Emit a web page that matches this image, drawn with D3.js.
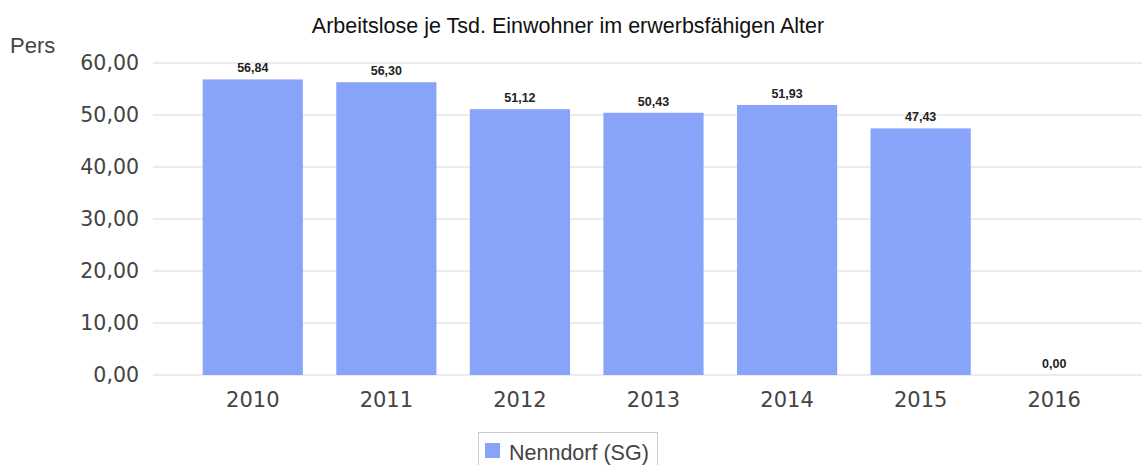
<!DOCTYPE html>
<html><head><meta charset="utf-8">
<script src="https://cdn.jsdelivr.net/npm/d3@7"></script>
<style>body{margin:0;background:#fff;}svg{display:block;}</style>
</head><body>
<svg id="c" width="1142" height="465"></svg>
<script>
const categories = ["2010","2011","2012","2013","2014","2015","2016"];
const values = [56.84, 56.30, 51.12, 50.43, 51.93, 47.43, 0.00];
const yTicks = [0, 10, 20, 30, 40, 50, 60];
const seriesName = "Nenndorf (SG)";
const title = "Arbeitslose je Tsd. Einwohner im erwerbsfähigen Alter";
const unit = "Pers";

const svg = d3.select("#c");
const fmt = v => v.toFixed(2).replace(".", ",");
const x = d3.scaleBand().domain(categories).range([186, 1121]).paddingInner(0.25).paddingOuter(0.125);
const y = d3.scaleLinear().domain([0, 60]).range([375, 63]);

// grid
svg.append("g").selectAll("line").data(yTicks).join("line")
  .attr("x1", 153).attr("x2", 1142)
  .attr("y1", d => y(d)).attr("y2", d => y(d))
  .attr("stroke", "#d9d9d9").attr("stroke-width", 1);

// y axis labels
const yAxis = d3.axisLeft(y).tickValues(yTicks).tickFormat(fmt).tickSize(0).tickPadding(0);
const ya = svg.append("g").attr("transform", "translate(139,0)").call(yAxis);
ya.select(".domain").remove();
ya.selectAll("text").attr("font-family", "DejaVu Sans, sans-serif").attr("font-size", 20.5).attr("fill", "#444");

// bars
svg.append("g").selectAll("rect").data(values).join("rect")
  .attr("x", (d, i) => x(categories[i]))
  .attr("width", x.bandwidth())
  .attr("y", d => y(d))
  .attr("height", d => y(0) - y(d))
  .attr("fill", "#88a4f8");

// value labels
svg.append("g").selectAll("text").data(values).join("text")
  .attr("x", (d, i) => x(categories[i]) + x.bandwidth() / 2)
  .attr("y", d => y(d) - 7)
  .attr("text-anchor", "middle")
  .attr("font-family", "Liberation Sans, Arial, sans-serif")
  .attr("font-size", 12.5).attr("font-weight", "bold").attr("fill", "#222")
  .text(fmt);

// x axis labels
const xAxis = d3.axisBottom(x).tickSize(0).tickPadding(0);
const xa = svg.append("g").attr("transform", "translate(0,388)").call(xAxis);
xa.select(".domain").remove();
xa.selectAll("text").attr("font-family", "DejaVu Sans, sans-serif").attr("font-size", 21).attr("fill", "#444").attr("dy", "0.9em");

// title
svg.append("text").attr("x", 568).attr("y", 33).attr("text-anchor", "middle")
  .attr("font-family", "Liberation Sans, Arial, sans-serif").attr("font-size", 21.5).attr("fill", "#111").text(title);

// unit
svg.append("text").attr("x", 10).attr("y", 53)
  .attr("font-family", "Liberation Sans, Arial, sans-serif").attr("font-size", 22).attr("fill", "#444").text(unit);

// legend
const lg = svg.append("g");
lg.append("rect").attr("x", 478.5).attr("y", 432.5).attr("width", 179).attr("height", 40)
  .attr("fill", "#fff").attr("stroke", "#ccc");
lg.append("rect").attr("x", 485).attr("y", 443).attr("width", 15).attr("height", 15).attr("fill", "#88a4f8");
lg.append("text").attr("x", 509).attr("y", 460)
  .attr("font-family", "Liberation Sans, Arial, sans-serif").attr("font-size", 21.5).attr("fill", "#444").text(seriesName);
</script>
</body></html>
